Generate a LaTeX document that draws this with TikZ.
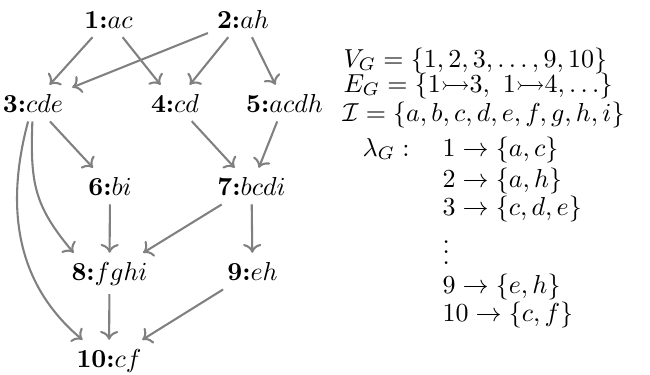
\documentclass[tikz,border=0pt]{standalone}
\usepackage{amsmath,amssymb}
\usetikzlibrary{arrows.meta}
\tikzset{
  vnode/.style={inner sep=3.33pt, anchor=base},
  edge/.style={draw=black!50, line width=0.8pt, -{Computer Modern Rightarrow[length=3.4pt,width=7pt]}},
  rtext/.style={inner sep=0pt, anchor=base west, text height=6.5pt, text depth=1.5pt},
}
\begin{document}
\begin{tikzpicture}[x=0.385pt, y=-0.385pt]
\useasboundingbox (0,0) rectangle (650,374);
% graph nodes
\node[vnode] (n1) at (108.5,28) {\textbf{1:}$ac$};
\node[vnode] (n2) at (243,28) {\textbf{2:}$ah$};
\node[vnode] (n3) at (33,112) {\textbf{3:}$cde$};
\node[vnode] (n4) at (175,112) {\textbf{4:}$cd$};
\node[vnode] (n5) at (284.5,112) {\textbf{5:}$acdh$};
\node[vnode] (n6) at (110,195) {\textbf{6:}$bi$};
\node[vnode] (n7) at (251.5,195) {\textbf{7:}$bcdi$};
\node[vnode] (n8) at (109.5,280) {\textbf{8:}$fghi$};
\node[vnode] (n9) at (252.5,280) {\textbf{9:}$eh$};
\node[vnode] (n10) at (109,367) {\textbf{10:}$cf$};
% edges
\draw[edge] (n1) -- (n3);
\draw[edge] (n1) -- (n4);
\draw[edge] (n2) -- (n3);
\draw[edge] (n2) -- (n4);
\draw[edge] (n2) -- (n5);
\draw[edge] (n3) -- (n6);
\draw[edge] (n4) -- (n7);
\draw[edge] (n5) -- (n7);
\draw[edge] (n6) -- (n8);
\draw[edge] (n7) -- (n8);
\draw[edge] (n7) -- (n9);
\draw[edge] (n8) -- (n10);
\draw[edge] (n9) -- (n10);
\draw[edge] (n3) to[out=-92, in=130, looseness=1.15] (n8.150);
\draw[edge] (n3) to[out=-105, in=140] (n10.142);
% right-hand text
\node[rtext] (tv) at (343,67) {$V_G = \{1,2,3,\ldots,9,10\}$};
\node[rtext] (te) at (343,92) {$E_G = \{1{\rightarrowtail}3,\ 1{\rightarrowtail}4,\ldots\}$};
\node[rtext] (ti) at (342,121) {$\mathcal{I} = \{a,b,c,d,e,f,g,h,i\}$};
\node[rtext] (tl) at (362,156) {$\lambda_G:$};
\node[rtext] (m1) at (442,156) {$1 \rightarrow \{a,c\}$};
\node[rtext] (m2) at (442,187) {$2 \rightarrow \{a,h\}$};
\node[rtext] (m3) at (442,215.5) {$3 \rightarrow \{c,d,e\}$};
\node[rtext, text height=12pt, text depth=0pt] (md) at (442,264) {$\vdots$};
\node[rtext] (m9) at (442,293) {$9 \rightarrow \{e,h\}$};
\node[rtext] (m10) at (442,321.5) {$10 \rightarrow \{c,f\}$};
\end{tikzpicture}
\end{document}
